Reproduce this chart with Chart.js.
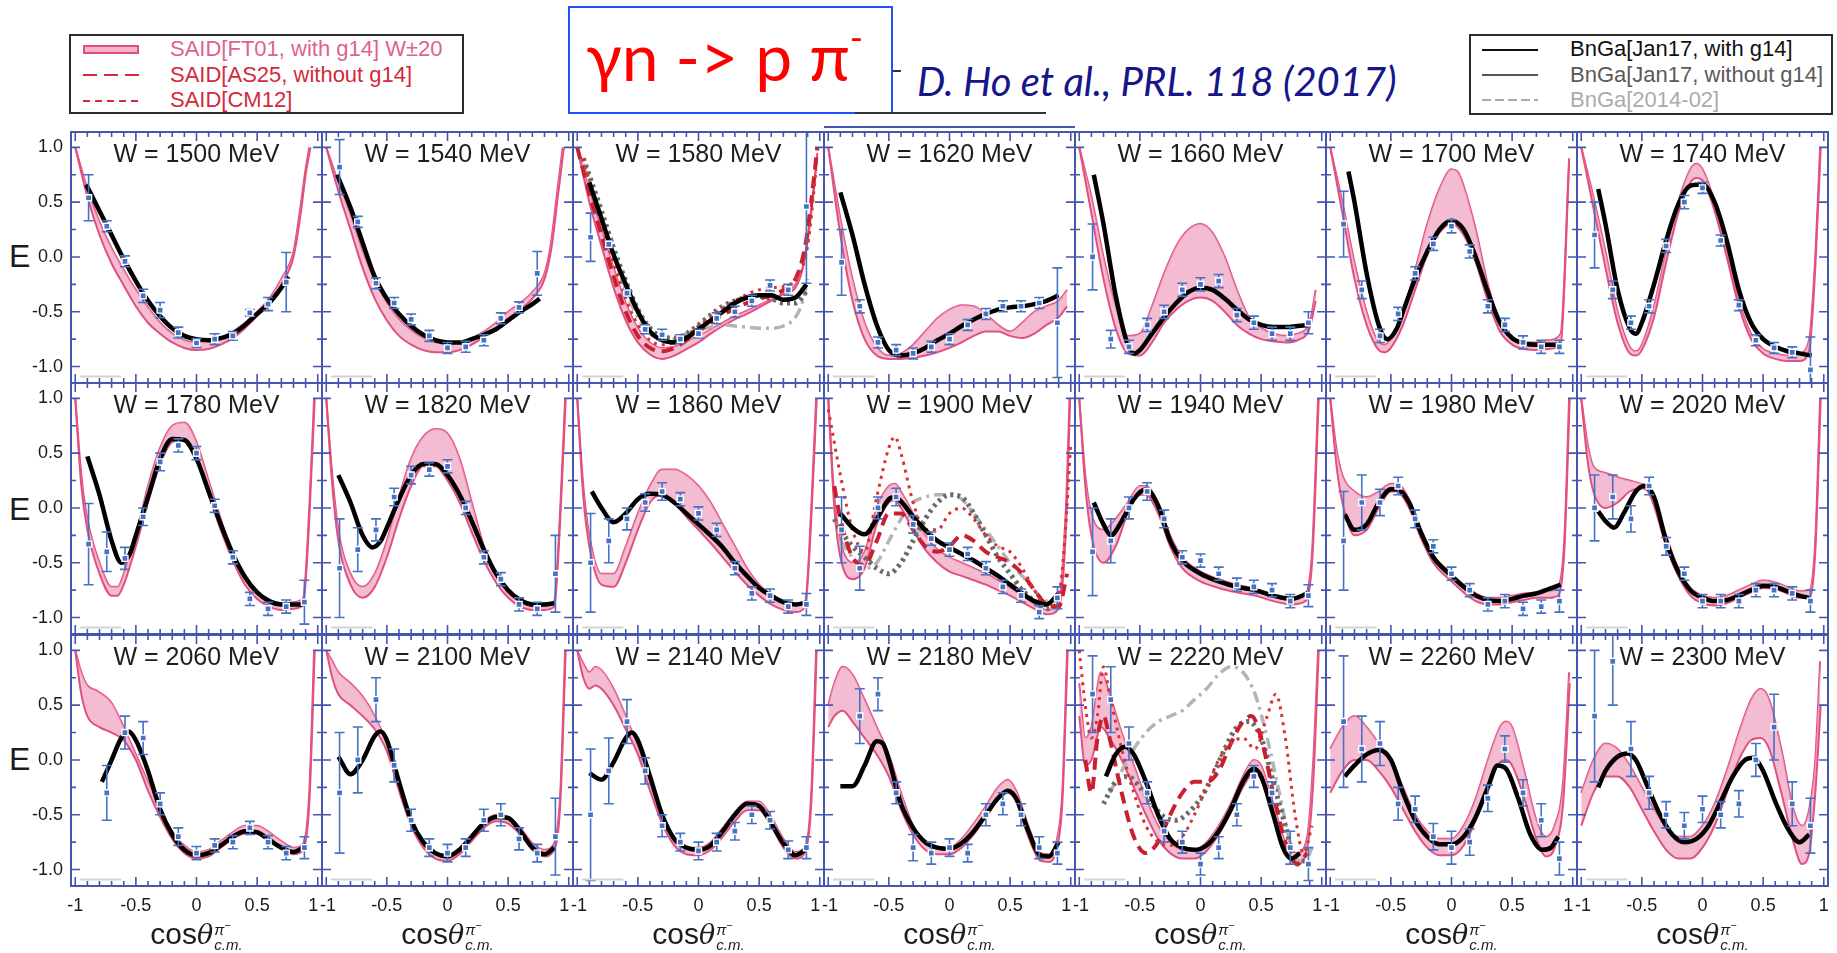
<!DOCTYPE html>
<html><head><meta charset="utf-8">
<script src="https://cdn.jsdelivr.net/npm/chart.js@4.4.1/dist/chart.umd.min.js"></script>
<style>
html,body{margin:0;padding:0;background:#fff;}
body{width:1837px;height:953px;position:relative;overflow:hidden;font-family:"Liberation Sans",Arial,sans-serif;}
canvas{position:absolute;}
.lbox{position:absolute;border:2px solid #2b2b2b;box-sizing:border-box;}
.lrow{position:absolute;font-size:22px;line-height:24px;white-space:nowrap;}
.sample{position:absolute;height:0;}
.band{position:absolute;height:5px;background:#f3b3c8;border:2px solid #e0507e;box-sizing:content-box;}
.ylab{position:absolute;left:9px;font-size:32px;line-height:36px;color:#1c1c1c;}
.xt{position:absolute;top:917px;width:200px;text-align:center;font-size:30px;line-height:34px;color:#1c1c1c;white-space:nowrap;}
.xt i{font-family:"DejaVu Serif",serif;font-size:27px;}
.xt .s{display:inline-block;vertical-align:-6px;line-height:15px;text-align:left;font-style:italic;font-size:15px;margin-left:1px;}
</style></head><body>

<div class="lbox" style="left:69px;top:34px;width:395px;height:80px;"></div>
<div class="band" style="left:83px;top:45px;width:52px;"></div>
<div class="lrow" style="left:170px;top:37px;color:#e0628f;">SAID[FT01, with g14] W±20</div>
<div class="sample" style="left:83px;top:74px;width:56px;background:repeating-linear-gradient(90deg,#d42a3c 0 14px,transparent 14px 21px);height:2px;"></div>
<div class="lrow" style="left:170px;top:63px;color:#d22a3c;">SAID[AS25, without g14]</div>
<div class="sample" style="left:83px;top:100px;width:56px;background:repeating-linear-gradient(90deg,#d42a3c 0 7px,transparent 7px 12px);height:2px;"></div>
<div class="lrow" style="left:170px;top:88px;color:#d22a3c;">SAID[CM12]</div>

<div style="position:absolute;left:568px;top:6px;width:325px;height:108px;border:2px solid #1f4fff;box-sizing:border-box;"></div>
<div style="position:absolute;left:586px;top:16px;font-family:Lato,'Open Sans',sans-serif;font-size:66px;line-height:80px;color:#ff0000;white-space:nowrap;">γn -&gt; p π<sup style="font-size:36px;vertical-align:30px;line-height:0;">-</sup></div>
<div style="position:absolute;left:855px;top:112px;width:191px;height:2px;background:#333;"></div>
<div style="position:absolute;left:893px;top:70px;width:8px;height:2px;background:#333;"></div>
<div style="position:absolute;left:917px;top:57px;font-family:Lato,'Open Sans',sans-serif;font-style:italic;font-size:40px;line-height:48px;color:#16168a;white-space:nowrap;">D. Ho et al., PRL. 118 (2017)</div>
<div style="position:absolute;left:824px;top:126px;width:251px;height:2px;background:#4556b0;"></div>

<div class="lbox" style="left:1469px;top:34px;width:364px;height:81px;"></div>
<div class="sample" style="left:1482px;top:49px;width:56px;height:2px;background:#111;"></div>
<div class="lrow" style="left:1570px;top:37px;color:#111;">BnGa[Jan17, with g14]</div>
<div class="sample" style="left:1482px;top:74px;width:56px;height:1.5px;background:#555;"></div>
<div class="lrow" style="left:1570px;top:63px;color:#5a5a5a;">BnGa[Jan17, without g14]</div>
<div class="sample" style="left:1482px;top:99px;width:56px;height:1.5px;background:repeating-linear-gradient(90deg,#aaa 0 9px,transparent 9px 13px);"></div>
<div class="lrow" style="left:1570px;top:88px;color:#ababab;">BnGa[2014-02]</div>

<div class="ylab" style="top:238px;">E</div>
<div class="ylab" style="top:491px;">E</div>
<div class="ylab" style="top:741px;">E</div>

<script>
// Photon energies of the 21 panels (MeV)
const energies = [1500,1540,1580,1620,1660,1700,1740,1780,1820,1860,1900,1940,1980,2020,2060,2100,2140,2180,2220,2260,2300];

// Angular bins of the measurement (cos theta, c.m.)
const cosBins = [-0.89,-0.74,-0.59,-0.44,-0.30,-0.15,0.00,0.15,0.30,0.44,0.59,0.74,0.89];

// Measured helicity asymmetry E per panel (null = no point)
const measE = [
  [0.54,0.28,-0.04,-0.355,-0.485,-0.69,-0.785,-0.75,-0.72,-0.51,-0.43,-0.23,null],
  [0.82,0.32,-0.24,-0.42,-0.57,-0.72,-0.83,-0.82,-0.76,-0.56,-0.46,-0.15,null],
  [0.18,0.115,-0.33,-0.66,-0.71,-0.75,-0.70,-0.56,-0.50,-0.40,-0.26,-0.30,0.46],
  [-0.05,-0.45,-0.78,-0.85,-0.88,-0.82,-0.75,-0.62,-0.52,-0.45,-0.45,-0.42,-0.60],
  [0.00,-0.75,-0.82,-0.62,-0.50,-0.30,-0.25,-0.22,-0.53,-0.60,-0.70,-0.70,-0.60],
  [0.30,-0.30,-0.72,-0.52,-0.15,0.12,0.28,0.05,-0.45,-0.62,-0.78,-0.82,-0.82],
  [0.20,-0.30,-0.60,-0.45,0.10,0.50,0.63,0.15,-0.44,-0.76,-0.83,-0.87,-1.03],
  [-0.33,-0.40,-0.46,-0.08,0.42,0.57,0.50,0.02,-0.45,-0.83,-0.92,-0.90,-0.86],
  [-0.55,-0.38,-0.20,0.10,0.30,0.35,0.38,0.00,-0.45,-0.65,-0.88,-0.92,-0.60],
  [-0.50,-0.30,-0.10,0.05,0.15,0.08,-0.05,-0.20,-0.55,-0.78,-0.80,-0.90,-0.88],
  [-0.20,-0.55,0.00,0.10,-0.15,-0.28,-0.38,-0.42,-0.55,-0.72,-0.80,-0.95,-0.82],
  [-0.40,-0.30,0.00,0.15,-0.10,-0.45,-0.48,-0.60,-0.70,-0.72,-0.75,-0.85,-0.80],
  [-0.30,0.05,0.05,0.20,-0.10,-0.35,-0.60,-0.75,-0.88,-0.85,-0.92,-0.90,-0.85],
  [0.00,0.10,-0.10,0.20,-0.35,-0.60,-0.85,-0.85,-0.85,-0.75,-0.75,-0.78,-0.85],
  [null,-0.30,0.25,0.20,-0.40,-0.70,-0.85,-0.78,-0.75,-0.62,-0.75,-0.85,-0.80],
  [-0.30,0.00,0.55,-0.05,-0.55,-0.80,-0.85,-0.80,-0.55,-0.50,-0.72,-0.85,-0.70],
  [-0.50,-0.10,0.35,-0.10,-0.60,-0.75,-0.83,-0.75,-0.65,-0.50,-0.55,-0.82,-0.80],
  [null,0.40,0.60,-0.30,-0.80,-0.85,-0.80,-0.85,-0.50,-0.40,-0.50,-0.80,-0.85],
  [0.60,0.55,0.15,-0.30,-0.65,-0.75,-0.95,-0.80,-0.50,-0.15,-0.30,-0.80,-0.95],
  [0.35,0.10,0.15,-0.40,-0.45,-0.70,-0.80,-0.75,-0.35,0.10,-0.30,-0.55,-0.90],
  [0.40,0.90,0.10,-0.30,-0.50,-0.60,-0.45,-0.50,-0.40,0.00,0.30,-0.40,-0.60]
];

// Statistical uncertainties of the measured points
const measErr = [
  [0.21,0.05,0.05,0.06,0.07,0.05,0.04,0.05,0.04,0.03,0.06,0.27,null],
  [0.25,0.05,0.05,0.05,0.05,0.05,0.05,0.05,0.05,0.05,0.05,0.20,null],
  [0.22,0.03,0.03,0.04,0.05,0.04,0.04,0.05,0.05,0.05,0.05,0.05,0.70],
  [0.30,0.06,0.05,0.05,0.05,0.05,0.05,0.05,0.05,0.05,0.05,0.05,0.50],
  [0.30,0.08,0.06,0.06,0.06,0.06,0.06,0.06,0.06,0.06,0.06,0.06,0.10],
  [0.30,0.08,0.06,0.06,0.06,0.06,0.06,0.06,0.06,0.06,0.06,0.06,0.06],
  [0.30,0.08,0.06,0.06,0.06,0.06,0.05,0.05,0.05,0.05,0.05,0.05,0.30],
  [0.37,0.18,0.10,0.08,0.08,0.06,0.06,0.06,0.06,0.06,0.06,0.06,0.20],
  [0.45,0.20,0.10,0.08,0.08,0.06,0.06,0.06,0.06,0.06,0.06,0.06,0.35],
  [0.45,0.20,0.10,0.08,0.08,0.06,0.06,0.06,0.06,0.06,0.06,0.06,0.10],
  [0.30,0.20,0.10,0.08,0.08,0.06,0.06,0.06,0.06,0.06,0.06,0.06,0.10],
  [0.40,0.20,0.10,0.08,0.08,0.06,0.06,0.06,0.06,0.06,0.06,0.06,0.10],
  [0.45,0.25,0.12,0.08,0.08,0.06,0.06,0.06,0.06,0.06,0.06,0.06,0.10],
  [0.30,0.20,0.12,0.08,0.08,0.06,0.06,0.06,0.06,0.06,0.06,0.06,0.10],
  [null,0.25,0.15,0.15,0.10,0.08,0.06,0.06,0.06,0.06,0.06,0.06,0.10],
  [0.55,0.30,0.20,0.15,0.10,0.08,0.08,0.08,0.10,0.10,0.10,0.08,0.35],
  [0.60,0.30,0.20,0.12,0.10,0.08,0.08,0.08,0.08,0.08,0.08,0.08,0.10],
  [null,0.25,0.15,0.10,0.12,0.10,0.08,0.08,0.10,0.10,0.10,0.10,0.10],
  [0.35,0.30,0.15,0.10,0.10,0.10,0.10,0.10,0.10,0.10,0.10,0.15,0.15],
  [0.60,0.30,0.20,0.15,0.12,0.12,0.15,0.12,0.12,0.12,0.12,0.15,0.15],
  [0.60,0.40,0.25,0.15,0.12,0.12,0.12,0.12,0.12,0.15,0.30,0.20,0.25]
];

// BnGa [Jan17, with g14] solution
const bngaJan17 = [
  [[-0.91,0.66],[-0.8,0.42],[-0.7,0.2],[-0.6,-0.02],[-0.5,-0.22],[-0.4,-0.4],[-0.3,-0.54],[-0.2,-0.65],[-0.1,-0.72],[0,-0.75],[0.1,-0.76],[0.2,-0.74],[0.3,-0.7],[0.4,-0.62],[0.5,-0.52],[0.6,-0.42],[0.7,-0.28],[0.76,-0.18]],
  [[-0.91,0.75],[-0.8,0.45],[-0.7,0.13],[-0.6,-0.18],[-0.5,-0.38],[-0.4,-0.52],[-0.3,-0.63],[-0.2,-0.71],[-0.1,-0.76],[0,-0.78],[0.1,-0.78],[0.2,-0.75],[0.3,-0.71],[0.4,-0.66],[0.5,-0.58],[0.6,-0.5],[0.7,-0.43],[0.76,-0.38]],
  [[-0.9,0.68],[-0.8,0.35],[-0.7,0.02],[-0.6,-0.25],[-0.5,-0.5],[-0.4,-0.68],[-0.3,-0.76],[-0.2,-0.78],[-0.1,-0.74],[0,-0.66],[0.1,-0.58],[0.2,-0.5],[0.3,-0.42],[0.4,-0.37],[0.5,-0.35],[0.6,-0.35],[0.7,-0.39],[0.8,-0.37],[0.89,-0.25]],
  [[-0.9,0.59],[-0.8,0.2],[-0.7,-0.25],[-0.6,-0.62],[-0.5,-0.85],[-0.4,-0.9],[-0.3,-0.88],[-0.2,-0.83],[-0.1,-0.76],[0,-0.7],[0.1,-0.63],[0.2,-0.57],[0.3,-0.52],[0.4,-0.48],[0.5,-0.46],[0.6,-0.45],[0.7,-0.43],[0.8,-0.4],[0.9,-0.35]],
  [[-0.88,0.75],[-0.8,0.3],[-0.7,-0.35],[-0.6,-0.8],[-0.55,-0.88],[-0.5,-0.85],[-0.4,-0.7],[-0.3,-0.55],[-0.2,-0.42],[-0.1,-0.32],[0,-0.28],[0.1,-0.3],[0.2,-0.38],[0.3,-0.48],[0.4,-0.57],[0.5,-0.62],[0.6,-0.64],[0.7,-0.64],[0.8,-0.63],[0.9,-0.62]],
  [[-0.85,0.78],[-0.8,0.5],[-0.7,-0.15],[-0.6,-0.62],[-0.53,-0.75],[-0.45,-0.65],[-0.4,-0.5],[-0.3,-0.2],[-0.2,0.05],[-0.1,0.25],[0,0.33],[0.1,0.25],[0.2,0],[0.3,-0.32],[0.4,-0.6],[0.5,-0.74],[0.6,-0.79],[0.7,-0.8],[0.8,-0.8],[0.87,-0.8]],
  [[-0.86,0.62],[-0.8,0.3],[-0.7,-0.3],[-0.6,-0.65],[-0.55,-0.7],[-0.5,-0.6],[-0.4,-0.25],[-0.3,0.15],[-0.2,0.48],[-0.1,0.65],[0,0.66],[0.1,0.5],[0.2,0.15],[0.3,-0.3],[0.4,-0.6],[0.5,-0.75],[0.6,-0.82],[0.7,-0.86],[0.8,-0.88],[0.9,-0.9]],
  [[-0.9,0.47],[-0.8,0.12],[-0.7,-0.3],[-0.62,-0.5],[-0.55,-0.42],[-0.5,-0.25],[-0.4,0.1],[-0.3,0.45],[-0.2,0.63],[-0.1,0.62],[0,0.45],[0.1,0.15],[0.2,-0.15],[0.3,-0.42],[0.4,-0.63],[0.5,-0.77],[0.6,-0.85],[0.7,-0.88],[0.8,-0.88],[0.88,-0.88]],
  [[-0.9,0.3],[-0.8,0.05],[-0.7,-0.25],[-0.62,-0.36],[-0.55,-0.3],[-0.5,-0.18],[-0.4,0.08],[-0.3,0.3],[-0.2,0.4],[-0.1,0.4],[0,0.3],[0.1,0.12],[0.2,-0.12],[0.3,-0.38],[0.4,-0.6],[0.5,-0.75],[0.6,-0.84],[0.7,-0.88],[0.8,-0.88],[0.88,-0.87]],
  [[-0.88,0.15],[-0.8,0],[-0.7,-0.13],[-0.6,-0.05],[-0.5,0.08],[-0.4,0.13],[-0.3,0.12],[-0.2,0.05],[-0.1,-0.05],[0,-0.15],[0.1,-0.25],[0.2,-0.36],[0.3,-0.5],[0.4,-0.62],[0.5,-0.73],[0.6,-0.8],[0.7,-0.86],[0.8,-0.88],[0.9,-0.86]],
  [[-0.9,-0.05],[-0.8,-0.18],[-0.7,-0.24],[-0.6,-0.1],[-0.5,0.08],[-0.45,0.1],[-0.4,0.06],[-0.3,-0.08],[-0.2,-0.2],[-0.1,-0.3],[0,-0.36],[0.1,-0.42],[0.2,-0.48],[0.3,-0.55],[0.4,-0.62],[0.5,-0.7],[0.6,-0.78],[0.7,-0.85],[0.8,-0.88],[0.9,-0.78]],
  [[-0.88,0.05],[-0.8,-0.15],[-0.74,-0.25],[-0.65,-0.12],[-0.55,0.08],[-0.45,0.17],[-0.35,0.02],[-0.25,-0.3],[-0.15,-0.48],[0,-0.6],[0.15,-0.67],[0.3,-0.72],[0.45,-0.75],[0.6,-0.8],[0.75,-0.83],[0.88,-0.78]],
  [[-0.88,-0.06],[-0.8,-0.2],[-0.7,-0.15],[-0.6,0.05],[-0.5,0.17],[-0.45,0.17],[-0.35,0.05],[-0.25,-0.23],[-0.15,-0.45],[0,-0.62],[0.1,-0.72],[0.2,-0.8],[0.3,-0.84],[0.4,-0.85],[0.5,-0.83],[0.6,-0.8],[0.7,-0.78],[0.8,-0.74],[0.9,-0.7]],
  [[-0.86,-0.03],[-0.8,-0.12],[-0.73,-0.18],[-0.65,-0.05],[-0.55,0.15],[-0.48,0.2],[-0.4,0.1],[-0.3,-0.3],[-0.2,-0.58],[-0.1,-0.75],[0,-0.82],[0.1,-0.85],[0.2,-0.84],[0.3,-0.8],[0.4,-0.75],[0.5,-0.71],[0.6,-0.72],[0.7,-0.76],[0.8,-0.8],[0.88,-0.82]],
  [[-0.78,-0.2],[-0.7,0],[-0.62,0.2],[-0.56,0.26],[-0.5,0.18],[-0.4,-0.1],[-0.3,-0.45],[-0.2,-0.68],[-0.1,-0.82],[0,-0.87],[0.1,-0.85],[0.2,-0.78],[0.3,-0.7],[0.4,-0.65],[0.5,-0.66],[0.6,-0.73],[0.7,-0.8],[0.8,-0.84],[0.88,-0.8]],
  [[-0.9,0.03],[-0.8,-0.13],[-0.7,0],[-0.6,0.22],[-0.55,0.26],[-0.5,0.18],[-0.4,-0.2],[-0.3,-0.55],[-0.2,-0.75],[-0.1,-0.85],[0,-0.88],[0.1,-0.82],[0.2,-0.7],[0.3,-0.58],[0.4,-0.52],[0.5,-0.53],[0.6,-0.65],[0.7,-0.8],[0.8,-0.86],[0.88,-0.8]],
  [[-0.9,-0.12],[-0.8,-0.18],[-0.7,-0.02],[-0.6,0.2],[-0.55,0.25],[-0.5,0.18],[-0.4,-0.15],[-0.3,-0.5],[-0.2,-0.72],[-0.1,-0.8],[0,-0.82],[0.1,-0.78],[0.2,-0.65],[0.3,-0.5],[0.4,-0.4],[0.5,-0.42],[0.6,-0.58],[0.7,-0.76],[0.8,-0.87],[0.9,-0.8]],
  [[-0.9,-0.24],[-0.8,-0.24],[-0.7,-0.05],[-0.6,0.17],[-0.55,0.15],[-0.5,0],[-0.4,-0.4],[-0.3,-0.62],[-0.2,-0.75],[-0.1,-0.8],[0,-0.81],[0.1,-0.76],[0.2,-0.65],[0.3,-0.5],[0.4,-0.35],[0.48,-0.28],[0.55,-0.35],[0.65,-0.65],[0.75,-0.87],[0.82,-0.88],[0.9,-0.75]],
  [[-0.78,-0.15],[-0.7,0.05],[-0.62,0.12],[-0.55,0.05],[-0.45,-0.2],[-0.35,-0.5],[-0.25,-0.72],[-0.15,-0.8],[-0.05,-0.82],[0.05,-0.78],[0.15,-0.65],[0.25,-0.45],[0.35,-0.2],[0.44,-0.08],[0.5,-0.15],[0.6,-0.5],[0.68,-0.8],[0.75,-0.9],[0.82,-0.85]],
  [[-0.88,-0.15],[-0.8,-0.05],[-0.7,0.05],[-0.6,0.09],[-0.5,0],[-0.4,-0.3],[-0.3,-0.55],[-0.2,-0.7],[-0.1,-0.77],[0,-0.77],[0.1,-0.7],[0.2,-0.52],[0.3,-0.25],[0.38,-0.05],[0.45,-0.08],[0.55,-0.35],[0.65,-0.68],[0.75,-0.82],[0.82,-0.8],[0.88,-0.7]],
  [[-0.86,-0.25],[-0.8,-0.1],[-0.7,0.03],[-0.62,0.06],[-0.55,0],[-0.45,-0.25],[-0.35,-0.5],[-0.25,-0.68],[-0.15,-0.75],[-0.05,-0.72],[0.05,-0.6],[0.15,-0.38],[0.25,-0.15],[0.35,0],[0.42,0.02],[0.5,-0.1],[0.6,-0.38],[0.7,-0.62],[0.8,-0.75],[0.88,-0.68]]
];

// SAID [FT01, with g14], lower and upper edge of the W +/- 20 MeV band
const saidLow = [
  [[-1,1],[-0.9,0.55],[-0.8,0.2],[-0.7,-0.06],[-0.6,-0.26],[-0.5,-0.45],[-0.4,-0.6],[-0.3,-0.7],[-0.2,-0.78],[-0.1,-0.83],[0,-0.85],[0.1,-0.84],[0.2,-0.8],[0.3,-0.74],[0.4,-0.65],[0.5,-0.54],[0.6,-0.42],[0.7,-0.25],[0.8,0],[0.86,0.4],[0.9,0.75],[0.94,1]],
  [[-1,1],[-0.9,0.6],[-0.8,0.25],[-0.7,-0.1],[-0.6,-0.38],[-0.5,-0.58],[-0.4,-0.72],[-0.3,-0.8],[-0.2,-0.85],[-0.1,-0.87],[0,-0.87],[0.1,-0.85],[0.2,-0.8],[0.3,-0.73],[0.4,-0.65],[0.5,-0.56],[0.6,-0.48],[0.7,-0.38],[0.8,-0.2],[0.86,0.1],[0.91,0.55],[0.96,1]],
  [[-1,1],[-0.9,0.5],[-0.8,0.1],[-0.7,-0.28],[-0.6,-0.58],[-0.5,-0.78],[-0.4,-0.89],[-0.3,-0.93],[-0.2,-0.9],[-0.1,-0.84],[0,-0.78],[0.1,-0.7],[0.2,-0.63],[0.3,-0.57],[0.4,-0.52],[0.5,-0.46],[0.6,-0.4],[0.7,-0.34],[0.8,-0.28],[0.86,-0.1],[0.92,0.35],[0.98,0.92]],
  [[-1,1],[-0.9,0.2],[-0.8,-0.4],[-0.7,-0.75],[-0.6,-0.9],[-0.5,-0.93],[-0.4,-0.93],[-0.3,-0.92],[-0.2,-0.9],[-0.1,-0.87],[0,-0.83],[0.1,-0.78],[0.2,-0.72],[0.3,-0.68],[0.4,-0.68],[0.5,-0.72],[0.6,-0.74],[0.7,-0.7],[0.8,-0.62],[0.9,-0.55],[0.97,-0.45]],
  [[-1,1],[-0.9,0.4],[-0.8,-0.2],[-0.7,-0.65],[-0.6,-0.88],[-0.5,-0.9],[-0.4,-0.78],[-0.3,-0.6],[-0.2,-0.48],[-0.1,-0.4],[0,-0.37],[0.1,-0.4],[0.2,-0.5],[0.3,-0.62],[0.4,-0.7],[0.5,-0.75],[0.6,-0.77],[0.7,-0.78],[0.8,-0.76],[0.9,-0.65],[0.95,-0.4]],
  [[-1,1],[-0.9,0.4],[-0.8,-0.2],[-0.7,-0.62],[-0.6,-0.85],[-0.55,-0.87],[-0.5,-0.83],[-0.4,-0.62],[-0.3,-0.3],[-0.2,0.02],[-0.1,0.22],[0,0.3],[0.1,0.2],[0.2,-0.05],[0.3,-0.4],[0.4,-0.68],[0.5,-0.8],[0.6,-0.84],[0.7,-0.85],[0.8,-0.84],[0.9,-0.8],[0.97,0.85]],
  [[-1,1],[-0.9,0.45],[-0.8,-0.1],[-0.7,-0.6],[-0.6,-0.88],[-0.55,-0.9],[-0.5,-0.85],[-0.4,-0.55],[-0.3,-0.05],[-0.2,0.4],[-0.1,0.68],[-0.05,0.72],[0,0.7],[0.1,0.42],[0.2,0],[0.3,-0.45],[0.4,-0.75],[0.5,-0.88],[0.6,-0.93],[0.7,-0.95],[0.8,-0.95],[0.88,-0.85],[0.93,-0.1],[0.975,1]],
  [[-1,1],[-0.95,0.2],[-0.9,-0.2],[-0.8,-0.6],[-0.7,-0.8],[-0.65,-0.8],[-0.6,-0.7],[-0.5,-0.35],[-0.4,0.05],[-0.3,0.4],[-0.2,0.6],[-0.1,0.62],[0,0.45],[0.1,0.12],[0.2,-0.2],[0.3,-0.48],[0.4,-0.7],[0.5,-0.83],[0.6,-0.9],[0.7,-0.93],[0.8,-0.92],[0.88,-0.88],[0.93,-0.1],[0.975,1]],
  [[-1,1],[-0.95,0.2],[-0.9,-0.3],[-0.8,-0.7],[-0.7,-0.82],[-0.6,-0.72],[-0.5,-0.45],[-0.4,-0.1],[-0.3,0.2],[-0.2,0.38],[-0.1,0.38],[0,0.25],[0.1,0.05],[0.2,-0.22],[0.3,-0.48],[0.4,-0.68],[0.5,-0.82],[0.6,-0.9],[0.7,-0.93],[0.8,-0.93],[0.88,-0.9],[0.93,-0.1],[0.975,1]],
  [[-1,1],[-0.95,0.1],[-0.9,-0.35],[-0.8,-0.7],[-0.7,-0.72],[-0.6,-0.5],[-0.5,-0.2],[-0.4,0.05],[-0.3,0.12],[-0.2,0.05],[-0.1,-0.08],[0,-0.2],[0.1,-0.32],[0.2,-0.45],[0.3,-0.58],[0.4,-0.7],[0.5,-0.8],[0.6,-0.88],[0.7,-0.93],[0.8,-0.95],[0.88,-0.9],[0.93,-0.1],[0.975,1]],
  [[-1,1],[-0.95,0],[-0.9,-0.45],[-0.8,-0.65],[-0.7,-0.55],[-0.6,-0.15],[-0.5,0.05],[-0.45,0.07],[-0.4,0],[-0.3,-0.2],[-0.2,-0.38],[-0.1,-0.5],[0,-0.58],[0.1,-0.62],[0.2,-0.66],[0.3,-0.7],[0.4,-0.75],[0.5,-0.8],[0.6,-0.86],[0.7,-0.92],[0.8,-0.97],[0.9,-0.92],[0.96,-0.2],[0.995,1]],
  [[-1,1],[-0.95,0.2],[-0.9,-0.25],[-0.8,-0.5],[-0.7,-0.35],[-0.6,-0.05],[-0.5,0.12],[-0.45,0.12],[-0.35,-0.05],[-0.25,-0.35],[-0.15,-0.55],[0,-0.67],[0.15,-0.73],[0.3,-0.77],[0.45,-0.8],[0.6,-0.85],[0.75,-0.88],[0.85,-0.86],[0.92,-0.5],[0.975,1]],
  [[-1,1],[-0.95,0.4],[-0.9,0.05],[-0.8,-0.25],[-0.7,-0.2],[-0.6,0],[-0.5,0.15],[-0.45,0.15],[-0.35,0],[-0.25,-0.28],[-0.15,-0.5],[0,-0.67],[0.1,-0.77],[0.2,-0.85],[0.3,-0.88],[0.4,-0.88],[0.5,-0.86],[0.6,-0.84],[0.7,-0.82],[0.8,-0.82],[0.88,-0.8],[0.93,-0.4],[0.975,1]],
  [[-1,1],[-0.95,0.45],[-0.9,0.15],[-0.8,0],[-0.7,0.05],[-0.6,0.15],[-0.5,0.18],[-0.45,0.15],[-0.4,0.02],[-0.3,-0.35],[-0.2,-0.62],[-0.1,-0.8],[0,-0.87],[0.1,-0.89],[0.2,-0.87],[0.3,-0.82],[0.4,-0.77],[0.5,-0.73],[0.6,-0.74],[0.7,-0.78],[0.8,-0.82],[0.88,-0.82],[0.93,-0.4],[0.975,1]],
  [[-1,1],[-0.95,0.6],[-0.9,0.4],[-0.8,0.3],[-0.7,0.25],[-0.6,0.18],[-0.5,0],[-0.4,-0.28],[-0.3,-0.52],[-0.2,-0.72],[-0.1,-0.85],[0,-0.9],[0.1,-0.88],[0.2,-0.8],[0.3,-0.72],[0.4,-0.67],[0.5,-0.67],[0.6,-0.72],[0.7,-0.8],[0.8,-0.86],[0.88,-0.82],[0.93,-0.4],[0.975,1]],
  [[-1,1],[-0.95,0.75],[-0.9,0.6],[-0.8,0.5],[-0.7,0.4],[-0.6,0.28],[-0.5,0.08],[-0.4,-0.28],[-0.3,-0.6],[-0.2,-0.8],[-0.1,-0.9],[0,-0.92],[0.1,-0.86],[0.2,-0.74],[0.3,-0.62],[0.4,-0.56],[0.5,-0.58],[0.6,-0.68],[0.7,-0.82],[0.8,-0.88],[0.88,-0.82],[0.93,-0.4],[0.975,1]],
  [[-1,1],[-0.95,0.75],[-0.9,0.65],[-0.85,0.68],[-0.8,0.65],[-0.7,0.5],[-0.6,0.28],[-0.5,0.05],[-0.4,-0.28],[-0.3,-0.58],[-0.2,-0.78],[-0.1,-0.86],[0,-0.87],[0.1,-0.82],[0.2,-0.7],[0.3,-0.56],[0.4,-0.46],[0.5,-0.46],[0.6,-0.6],[0.7,-0.8],[0.8,-0.9],[0.88,-0.84],[0.93,-0.4],[0.975,1]],
  [[-1,0.3],[-0.95,0.4],[-0.88,0.45],[-0.8,0.35],[-0.7,0.2],[-0.6,0.05],[-0.5,-0.15],[-0.4,-0.45],[-0.3,-0.68],[-0.2,-0.82],[-0.1,-0.86],[0,-0.86],[0.1,-0.8],[0.2,-0.68],[0.3,-0.52],[0.4,-0.36],[0.48,-0.3],[0.55,-0.38],[0.65,-0.7],[0.75,-0.92],[0.82,-0.93],[0.88,-0.82],[0.93,-0.4],[0.975,1]],
  [[-1,0.4],[-0.95,-0.05],[-0.9,0],[-0.82,0.3],[-0.75,0.2],[-0.65,0],[-0.55,-0.25],[-0.45,-0.5],[-0.35,-0.72],[-0.25,-0.85],[-0.15,-0.9],[-0.05,-0.9],[0.05,-0.83],[0.15,-0.68],[0.25,-0.48],[0.35,-0.25],[0.44,-0.12],[0.5,-0.18],[0.6,-0.52],[0.7,-0.85],[0.8,-0.95],[0.88,-0.8],[0.93,-0.2],[0.975,1]],
  [[-1,-0.3],[-0.9,-0.1],[-0.8,0],[-0.7,0],[-0.6,-0.1],[-0.5,-0.25],[-0.4,-0.45],[-0.3,-0.65],[-0.2,-0.8],[-0.1,-0.87],[0,-0.87],[0.1,-0.78],[0.2,-0.55],[0.3,-0.25],[0.4,-0.02],[0.45,0],[0.5,-0.05],[0.6,-0.35],[0.7,-0.72],[0.78,-0.88],[0.85,-0.8],[0.92,-0.4],[0.975,0.7]],
  [[-1,-0.6],[-0.9,-0.3],[-0.8,-0.15],[-0.7,-0.15],[-0.6,-0.25],[-0.5,-0.45],[-0.4,-0.65],[-0.3,-0.82],[-0.2,-0.9],[-0.1,-0.9],[0,-0.8],[0.1,-0.6],[0.2,-0.3],[0.3,0],[0.4,0.18],[0.48,0.2],[0.55,0.1],[0.65,-0.3],[0.75,-0.75],[0.82,-0.95],[0.88,-0.85],[0.93,-0.3],[0.975,0.5]]
];
const saidHigh = [
  [[-1,1],[-0.9,0.62],[-0.8,0.32],[-0.7,0.08],[-0.6,-0.12],[-0.5,-0.3],[-0.4,-0.46],[-0.3,-0.6],[-0.2,-0.7],[-0.1,-0.76],[0,-0.78],[0.1,-0.77],[0.2,-0.74],[0.3,-0.68],[0.4,-0.6],[0.5,-0.5],[0.6,-0.38],[0.7,-0.2],[0.8,0.05],[0.85,0.4],[0.9,0.8],[0.93,1]],
  [[-1,1],[-0.9,0.68],[-0.8,0.38],[-0.7,0.05],[-0.6,-0.22],[-0.5,-0.42],[-0.4,-0.57],[-0.3,-0.67],[-0.2,-0.74],[-0.1,-0.78],[0,-0.79],[0.1,-0.78],[0.2,-0.74],[0.3,-0.68],[0.4,-0.6],[0.5,-0.5],[0.6,-0.42],[0.7,-0.32],[0.8,-0.15],[0.85,0.1],[0.9,0.55],[0.95,1]],
  [[-1,1],[-0.9,0.6],[-0.8,0.25],[-0.7,-0.1],[-0.6,-0.42],[-0.5,-0.65],[-0.4,-0.78],[-0.3,-0.83],[-0.2,-0.82],[-0.1,-0.77],[0,-0.72],[0.1,-0.66],[0.2,-0.6],[0.3,-0.54],[0.4,-0.49],[0.5,-0.44],[0.6,-0.39],[0.7,-0.33],[0.8,-0.25],[0.87,-0.05],[0.93,0.4],[0.98,0.95]],
  [[-1,1],[-0.9,0.35],[-0.8,-0.2],[-0.7,-0.6],[-0.6,-0.82],[-0.5,-0.9],[-0.4,-0.88],[-0.3,-0.8],[-0.2,-0.68],[-0.1,-0.56],[0,-0.48],[0.1,-0.44],[0.2,-0.45],[0.3,-0.52],[0.4,-0.62],[0.5,-0.68],[0.6,-0.6],[0.7,-0.5],[0.8,-0.45],[0.9,-0.4],[0.97,-0.3]],
  [[-1,1],[-0.9,0.55],[-0.8,0],[-0.7,-0.45],[-0.6,-0.72],[-0.5,-0.7],[-0.4,-0.45],[-0.3,-0.15],[-0.2,0.1],[-0.1,0.25],[0,0.3],[0.1,0.22],[0.2,0],[0.3,-0.3],[0.4,-0.55],[0.5,-0.65],[0.6,-0.7],[0.7,-0.72],[0.8,-0.7],[0.9,-0.6],[0.95,-0.3]],
  [[-1,1],[-0.9,0.5],[-0.8,-0.05],[-0.7,-0.5],[-0.6,-0.78],[-0.55,-0.8],[-0.5,-0.75],[-0.4,-0.5],[-0.3,-0.12],[-0.2,0.3],[-0.1,0.62],[0,0.8],[0.05,0.78],[0.1,0.65],[0.2,0.25],[0.3,-0.25],[0.4,-0.6],[0.5,-0.75],[0.6,-0.78],[0.7,-0.78],[0.8,-0.76],[0.9,-0.7],[0.97,0.9]],
  [[-1,1],[-0.9,0.55],[-0.8,0.05],[-0.7,-0.5],[-0.6,-0.82],[-0.55,-0.86],[-0.5,-0.8],[-0.4,-0.45],[-0.3,0.05],[-0.2,0.5],[-0.1,0.8],[-0.05,0.85],[0,0.8],[0.1,0.5],[0.2,0.05],[0.3,-0.4],[0.4,-0.7],[0.5,-0.84],[0.6,-0.88],[0.7,-0.9],[0.8,-0.88],[0.88,-0.75],[0.93,0],[0.97,1]],
  [[-1,1],[-0.95,0.3],[-0.9,-0.1],[-0.8,-0.5],[-0.7,-0.72],[-0.65,-0.72],[-0.6,-0.6],[-0.5,-0.25],[-0.4,0.2],[-0.3,0.55],[-0.2,0.75],[-0.1,0.78],[0,0.6],[0.1,0.25],[0.2,-0.1],[0.3,-0.42],[0.4,-0.65],[0.5,-0.78],[0.6,-0.86],[0.7,-0.88],[0.8,-0.86],[0.88,-0.82],[0.93,0],[0.97,1]],
  [[-1,1],[-0.95,0.3],[-0.9,-0.2],[-0.8,-0.6],[-0.7,-0.72],[-0.6,-0.6],[-0.5,-0.3],[-0.4,0.1],[-0.3,0.45],[-0.2,0.65],[-0.1,0.72],[0,0.68],[0.1,0.45],[0.2,0.05],[0.3,-0.35],[0.4,-0.62],[0.5,-0.78],[0.6,-0.86],[0.7,-0.9],[0.8,-0.9],[0.88,-0.85],[0.93,0],[0.97,1]],
  [[-1,1],[-0.95,0.2],[-0.9,-0.25],[-0.8,-0.6],[-0.7,-0.6],[-0.6,-0.35],[-0.5,-0.05],[-0.4,0.2],[-0.3,0.35],[-0.2,0.35],[-0.1,0.3],[0,0.2],[0.1,0.05],[0.2,-0.15],[0.3,-0.35],[0.4,-0.55],[0.5,-0.7],[0.6,-0.8],[0.7,-0.87],[0.8,-0.88],[0.88,-0.85],[0.93,0],[0.97,1]],
  [[-1,1],[-0.95,0.1],[-0.9,-0.3],[-0.8,-0.5],[-0.7,-0.4],[-0.6,0],[-0.5,0.2],[-0.45,0.22],[-0.4,0.15],[-0.3,-0.05],[-0.2,-0.25],[-0.1,-0.38],[0,-0.45],[0.1,-0.5],[0.2,-0.55],[0.3,-0.6],[0.4,-0.66],[0.5,-0.73],[0.6,-0.8],[0.7,-0.88],[0.8,-0.93],[0.9,-0.85],[0.96,0],[0.99,1]],
  [[-1,1],[-0.95,0.3],[-0.9,-0.05],[-0.8,-0.2],[-0.7,-0.1],[-0.6,0.05],[-0.5,0.2],[-0.45,0.2],[-0.35,0.05],[-0.25,-0.25],[-0.15,-0.45],[0,-0.58],[0.15,-0.65],[0.3,-0.7],[0.45,-0.74],[0.6,-0.8],[0.75,-0.82],[0.85,-0.8],[0.92,-0.4],[0.97,1]],
  [[-1,1],[-0.95,0.55],[-0.9,0.3],[-0.8,0.15],[-0.7,0.1],[-0.6,0.15],[-0.5,0.22],[-0.45,0.22],[-0.35,0.08],[-0.25,-0.2],[-0.15,-0.43],[0,-0.6],[0.1,-0.7],[0.2,-0.78],[0.3,-0.82],[0.4,-0.82],[0.5,-0.8],[0.6,-0.78],[0.7,-0.77],[0.8,-0.76],[0.88,-0.72],[0.93,-0.3],[0.97,1]],
  [[-1,1],[-0.95,0.6],[-0.9,0.38],[-0.8,0.32],[-0.7,0.28],[-0.6,0.25],[-0.5,0.22],[-0.45,0.2],[-0.4,0.1],[-0.3,-0.25],[-0.2,-0.55],[-0.1,-0.73],[0,-0.8],[0.1,-0.82],[0.2,-0.8],[0.3,-0.75],[0.4,-0.7],[0.5,-0.66],[0.6,-0.68],[0.7,-0.72],[0.8,-0.76],[0.88,-0.75],[0.93,-0.3],[0.97,1]],
  [[-1,1],[-0.95,0.8],[-0.9,0.68],[-0.82,0.63],[-0.7,0.52],[-0.6,0.3],[-0.5,0.05],[-0.4,-0.2],[-0.3,-0.45],[-0.2,-0.65],[-0.1,-0.78],[0,-0.84],[0.1,-0.82],[0.2,-0.74],[0.3,-0.66],[0.4,-0.6],[0.5,-0.6],[0.6,-0.66],[0.7,-0.74],[0.8,-0.8],[0.88,-0.76],[0.93,-0.3],[0.97,1]],
  [[-1,1],[-0.95,0.9],[-0.9,0.8],[-0.8,0.7],[-0.7,0.58],[-0.6,0.4],[-0.5,0.15],[-0.4,-0.2],[-0.3,-0.55],[-0.2,-0.75],[-0.1,-0.85],[0,-0.87],[0.1,-0.8],[0.2,-0.68],[0.3,-0.56],[0.4,-0.5],[0.5,-0.52],[0.6,-0.62],[0.7,-0.76],[0.8,-0.82],[0.88,-0.76],[0.93,-0.3],[0.97,1]],
  [[-1,1],[-0.95,0.88],[-0.9,0.8],[-0.85,0.85],[-0.8,0.82],[-0.7,0.65],[-0.6,0.4],[-0.5,0.12],[-0.4,-0.2],[-0.3,-0.52],[-0.2,-0.72],[-0.1,-0.8],[0,-0.8],[0.1,-0.75],[0.2,-0.62],[0.3,-0.48],[0.4,-0.38],[0.5,-0.38],[0.6,-0.52],[0.7,-0.72],[0.8,-0.84],[0.88,-0.8],[0.93,-0.3],[0.97,1]],
  [[-1,0.5],[-0.95,0.7],[-0.88,0.85],[-0.8,0.78],[-0.7,0.55],[-0.6,0.3],[-0.5,0.05],[-0.4,-0.3],[-0.3,-0.6],[-0.2,-0.75],[-0.1,-0.8],[0,-0.8],[0.1,-0.72],[0.2,-0.58],[0.3,-0.42],[0.4,-0.25],[0.48,-0.18],[0.55,-0.28],[0.65,-0.6],[0.75,-0.85],[0.82,-0.86],[0.88,-0.75],[0.93,-0.3],[0.97,1]],
  [[-1,0.7],[-0.95,0.2],[-0.9,0.3],[-0.82,0.8],[-0.75,0.6],[-0.65,0.25],[-0.55,-0.05],[-0.45,-0.35],[-0.35,-0.6],[-0.25,-0.75],[-0.15,-0.82],[-0.05,-0.82],[0.05,-0.75],[0.15,-0.6],[0.25,-0.4],[0.35,-0.15],[0.44,0],[0.5,-0.05],[0.6,-0.4],[0.7,-0.75],[0.8,-0.85],[0.88,-0.7],[0.93,0],[0.97,1]],
  [[-1,0.1],[-0.9,0.3],[-0.8,0.4],[-0.7,0.3],[-0.6,0.15],[-0.5,0],[-0.4,-0.25],[-0.3,-0.5],[-0.2,-0.65],[-0.1,-0.72],[0,-0.72],[0.1,-0.6],[0.2,-0.35],[0.3,0],[0.4,0.3],[0.45,0.35],[0.5,0.3],[0.6,-0.1],[0.7,-0.55],[0.78,-0.7],[0.85,-0.6],[0.92,-0.2],[0.97,0.8]],
  [[-1,-0.3],[-0.9,0],[-0.8,0.15],[-0.7,0.1],[-0.6,-0.05],[-0.5,-0.25],[-0.4,-0.45],[-0.3,-0.62],[-0.2,-0.7],[-0.1,-0.7],[0,-0.6],[0.1,-0.4],[0.2,-0.1],[0.3,0.25],[0.4,0.55],[0.48,0.65],[0.55,0.55],[0.65,0.1],[0.75,-0.45],[0.82,-0.6],[0.88,-0.45],[0.93,0],[0.97,0.9]]
];

// Additional solutions, drawn only at 1580, 1900 and 2220 MeV (panel index -> curve)
const as25Curve = {
  2: [[-1,1],[-0.9,0.58],[-0.8,0.2],[-0.7,-0.18],[-0.6,-0.5],[-0.5,-0.72],[-0.4,-0.83],[-0.3,-0.86],[-0.2,-0.83],[-0.1,-0.76],[0,-0.68],[0.1,-0.6],[0.2,-0.53],[0.3,-0.47],[0.4,-0.42],[0.5,-0.38],[0.6,-0.35],[0.7,-0.3],[0.8,-0.2],[0.88,0.1],[0.95,0.7],[0.98,1]],
  10: [[-0.95,0.2],[-0.9,-0.1],[-0.8,-0.45],[-0.7,-0.52],[-0.6,-0.3],[-0.5,-0.05],[-0.4,-0.05],[-0.3,-0.2],[-0.2,-0.35],[-0.1,-0.4],[0,-0.35],[0.1,-0.25],[0.2,-0.3],[0.3,-0.4],[0.4,-0.45],[0.5,-0.5],[0.6,-0.6],[0.7,-0.75],[0.8,-0.88],[0.9,-0.9],[0.97,-0.6]],
  18: [[-0.95,0],[-0.9,-0.3],[-0.85,0.2],[-0.8,0.4],[-0.75,0.2],[-0.65,-0.3],[-0.55,-0.7],[-0.45,-0.85],[-0.35,-0.75],[-0.25,-0.5],[-0.15,-0.3],[-0.05,-0.2],[0.05,-0.2],[0.15,-0.1],[0.25,0.15],[0.35,0.35],[0.42,0.4],[0.5,0.2],[0.6,-0.3],[0.7,-0.75],[0.8,-0.95],[0.88,-0.85]]
};
const cm12Curve = {
  2: [[-0.95,0.9],[-0.8,0.3],[-0.7,-0.05],[-0.6,-0.38],[-0.5,-0.62],[-0.4,-0.76],[-0.3,-0.8],[-0.2,-0.78],[-0.1,-0.72],[0,-0.63],[0.1,-0.55],[0.2,-0.47],[0.3,-0.4],[0.4,-0.34],[0.5,-0.3],[0.6,-0.28],[0.7,-0.27],[0.8,-0.2],[0.9,0.1],[0.97,0.8]],
  10: [[-1,0.9],[-0.9,0.3],[-0.8,-0.2],[-0.7,-0.4],[-0.6,0.1],[-0.5,0.55],[-0.45,0.65],[-0.4,0.5],[-0.3,0.05],[-0.2,-0.2],[-0.1,-0.2],[0,-0.05],[0.1,0],[0.2,-0.1],[0.3,-0.25],[0.4,-0.35],[0.5,-0.4],[0.6,-0.55],[0.7,-0.75],[0.8,-0.9],[0.9,-0.8],[0.95,-0.3],[1,0.6]],
  18: [[-1,1],[-0.95,0.5],[-0.9,0.2],[-0.85,0.4],[-0.8,0.85],[-0.75,0.6],[-0.65,0.1],[-0.55,-0.3],[-0.45,-0.6],[-0.35,-0.75],[-0.25,-0.78],[-0.15,-0.7],[-0.05,-0.5],[0.05,-0.25],[0.15,0],[0.25,0.15],[0.35,0.2],[0.45,0.1],[0.55,0.4],[0.62,0.6],[0.7,0.2],[0.78,-0.5],[0.85,-0.85],[0.92,-0.6]]
};
const bngaNoG14Curve = {
  2: [[-0.95,0.9],[-0.8,0.42],[-0.7,0.08],[-0.6,-0.22],[-0.5,-0.48],[-0.4,-0.65],[-0.3,-0.73],[-0.2,-0.74],[-0.1,-0.7],[0,-0.62],[0.1,-0.53],[0.2,-0.45],[0.3,-0.4],[0.4,-0.37],[0.5,-0.36],[0.6,-0.38],[0.7,-0.42],[0.8,-0.42],[0.9,-0.3]],
  10: [[-0.95,-0.1],[-0.9,-0.2],[-0.8,-0.35],[-0.7,-0.45],[-0.6,-0.55],[-0.5,-0.6],[-0.4,-0.5],[-0.3,-0.3],[-0.2,-0.1],[-0.1,0.05],[0,0.12],[0.1,0.1],[0.2,-0.05],[0.3,-0.25],[0.4,-0.45],[0.5,-0.6],[0.6,-0.75],[0.7,-0.85],[0.8,-0.92],[0.9,-0.88]],
  18: [[-0.8,-0.4],[-0.7,-0.2],[-0.6,-0.15],[-0.5,-0.25],[-0.4,-0.4],[-0.3,-0.52],[-0.2,-0.55],[-0.1,-0.48],[0,-0.35],[0.1,-0.15],[0.2,0.1],[0.3,0.3],[0.4,0.35],[0.5,0.2],[0.6,-0.2],[0.7,-0.6],[0.8,-0.95],[0.88,-0.9]]
};
const bnga1402Curve = {
  2: [[-0.95,0.85],[-0.8,0.35],[-0.7,0.02],[-0.6,-0.3],[-0.5,-0.55],[-0.4,-0.7],[-0.3,-0.76],[-0.2,-0.75],[-0.1,-0.7],[0,-0.66],[0.1,-0.64],[0.2,-0.62],[0.3,-0.63],[0.4,-0.64],[0.5,-0.65],[0.6,-0.65],[0.7,-0.63],[0.8,-0.55],[0.86,-0.4],[0.9,-0.2]],
  10: [[-0.9,-0.3],[-0.8,-0.45],[-0.7,-0.55],[-0.6,-0.5],[-0.5,-0.3],[-0.4,-0.1],[-0.3,0.05],[-0.2,0.1],[-0.1,0.12],[0,0.12],[0.1,0.08],[0.2,-0.05],[0.3,-0.2],[0.4,-0.35],[0.5,-0.5],[0.6,-0.62],[0.7,-0.75],[0.8,-0.85],[0.9,-0.85]],
  18: [[-0.75,-0.3],[-0.65,-0.1],[-0.55,0.1],[-0.45,0.25],[-0.35,0.35],[-0.25,0.4],[-0.15,0.45],[-0.05,0.55],[0.05,0.65],[0.15,0.78],[0.25,0.85],[0.35,0.8],[0.45,0.6],[0.55,0.2],[0.65,-0.3],[0.75,-0.8],[0.85,-0.95],[0.92,-0.8]]
};

// Axis ticks
const xTickValues = [-1,-0.5,0,0.5,1];
const yTickValues = [-1,-0.5,0,0.5,1];

// ---- drawing ----
const FRAME = '#4556b0';
const PINK_LINE = '#e2507f';
const PINK_FILL = 'rgba(240,165,195,0.75)';
const DATA_BLUE = '#4472c4';
const PANEL_W = 251, PANEL_X0 = 71, ROW_TOPS = [132, 383, 635];
const MARGIN = 24;

const toXY = arr => arr.map(p => ({x: p[0], y: p[1]}));

const panelPlugin = {
  id: 'panelDecor',
  beforeDatasetDraw(chart, args) {
    const ds = chart.data.datasets[args.index];
    if (!ds.errs) return;
    const {ctx, chartArea: a, scales: {x, y}} = chart;
    ctx.save();
    ctx.beginPath(); ctx.rect(a.left, a.top, a.right - a.left, a.bottom - a.top); ctx.clip();
    ctx.strokeStyle = DATA_BLUE; ctx.lineWidth = 1.6;
    ds.data.forEach((p, k) => {
      const e = ds.errs[k];
      const px = x.getPixelForValue(p.x);
      const y1 = y.getPixelForValue(p.y + e), y2 = y.getPixelForValue(p.y - e);
      ctx.beginPath();
      ctx.moveTo(px, y1); ctx.lineTo(px, y2);
      ctx.moveTo(px - 5, y1); ctx.lineTo(px + 5, y1);
      ctx.moveTo(px - 5, y2); ctx.lineTo(px + 5, y2);
      ctx.stroke();
    });
    ctx.restore();
  },
  afterDraw(chart) {
    const {ctx, chartArea: a, scales: {x, y}} = chart;
    ctx.save();
    // faint caption stroke in the lower left corner
    ctx.strokeStyle = '#d4d4d4'; ctx.lineWidth = 2;
    ctx.beginPath();
    ctx.moveTo(x.getPixelForValue(-0.96), y.getPixelForValue(-1.09));
    ctx.lineTo(x.getPixelForValue(-0.62), y.getPixelForValue(-1.09));
    ctx.stroke();
    ctx.strokeStyle = FRAME; ctx.lineWidth = 2;
    ctx.strokeRect(a.left, a.top, a.right - a.left, a.bottom - a.top);
    ctx.lineWidth = 1.6;
    ctx.beginPath();
    for (let k = -10; k <= 10; k++) {
      const px = x.getPixelForValue(k / 10);
      const len = (k % 5 === 0) ? 9 : 5;
      ctx.moveTo(px, a.bottom); ctx.lineTo(px, a.bottom - len);
      ctx.moveTo(px, a.top); ctx.lineTo(px, a.top + len);
    }
    for (let k = -4; k <= 4; k++) {
      const py = y.getPixelForValue(k / 4);
      const len = (k % 2 === 0) ? 9 : 5;
      ctx.moveTo(a.left, py); ctx.lineTo(a.left + len, py);
      ctx.moveTo(a.right, py); ctx.lineTo(a.right - len, py);
    }
    ctx.stroke();
    ctx.fillStyle = '#1e1e1e';
    ctx.font = '25px "Liberation Sans", Arial, sans-serif';
    ctx.textAlign = 'center'; ctx.textBaseline = 'middle';
    ctx.fillText(chart.options.plugins.panelDecor.label, (a.left + a.right) / 2, a.top + 23);
    ctx.restore();
  }
};

function line(points, color, width, dash, order) {
  return {data: toXY(points), borderColor: color, borderWidth: width, borderDash: dash || [],
    pointRadius: 0, fill: false, cubicInterpolationMode: 'monotone', order: order};
}

energies.forEach((w, i) => {
  const r = Math.floor(i / 7), c = i % 7;
  const left = PANEL_X0 + c * PANEL_W, top = ROW_TOPS[r];
  const showX = r === 2, showY = c === 0;
  const padL = showY ? left : MARGIN;
  const padB = showX ? 953 - (top + PANEL_W) : MARGIN;
  const cw = padL + PANEL_W + MARGIN, ch = MARGIN + PANEL_W + padB;
  const cv = document.createElement('canvas');
  cv.width = cw; cv.height = ch;
  cv.style.width = cw + 'px'; cv.style.height = ch + 'px';
  cv.style.left = (left - padL) + 'px'; cv.style.top = (top - MARGIN) + 'px';
  document.body.appendChild(cv);

  const pts = [], errs = [];
  cosBins.forEach((cb, k) => {
    if (measE[i][k] !== null) { pts.push({x: cb, y: measE[i][k]}); errs.push(measErr[i][k]); }
  });

  const datasets = [
    {data: pts, errs: errs, showLine: false, pointStyle: 'rect', pointRadius: 4.3,
     pointBackgroundColor: DATA_BLUE, pointBorderColor: '#ffffff', pointBorderWidth: 1.4, order: 0},
    line(bngaJan17[i], '#000000', 4.5, null, 1),
    Object.assign(line(saidLow[i], PINK_LINE, 2, null, 8), {fill: '+1', backgroundColor: PINK_FILL}),
    line(saidHigh[i], PINK_LINE, 2, null, 9)
  ];
  if (bnga1402Curve[i]) datasets.push(line(bnga1402Curve[i], '#b4b4b4', 3.5, [11, 5, 3, 5], 5));
  if (bngaNoG14Curve[i]) datasets.push(line(bngaNoG14Curve[i], '#6a6a6a', 5, [3, 4], 4));
  if (as25Curve[i]) datasets.push(line(as25Curve[i], '#c8202e', 4, [12, 7], 3));
  if (cm12Curve[i]) datasets.push(line(cm12Curve[i], '#dd3030', 3, [3, 5], 2));

  // neighbouring panels share the "1-1" corner: nudge those two labels apart
  const xLabel = v => {
    if (v === 0) return '0';
    if (v === 1 && c < 6) return '1\u2002';
    if (v === -1 && c > 0) return '\u2009-1';
    return String(v);
  };

  const chart = new Chart(cv, {
    type: 'line',
    data: {datasets},
    options: {
      responsive: false, animation: false, events: [],
      layout: {padding: {left: showY ? 0 : MARGIN, top: MARGIN, right: MARGIN, bottom: showX ? 0 : MARGIN}},
      plugins: {legend: {display: false}, tooltip: {enabled: false}, panelDecor: {label: 'W = ' + w + ' MeV'}},
      scales: {
        x: {type: 'linear', min: -1.035, max: 1.035, display: showX,
            grid: {display: false, drawTicks: false}, border: {display: false},
            ticks: {padding: 9, color: '#1a1a1a', font: {size: 18, family: '"Liberation Sans", Arial'},
                    maxRotation: 0, autoSkip: false, callback: xLabel},
            afterBuildTicks: s => { s.ticks = xTickValues.map(v => ({value: v})); },
            afterFit: s => { if (showX) s.height = padB; }},
        y: {type: 'linear', min: -1.15, max: 1.14, display: showY,
            grid: {display: false, drawTicks: false}, border: {display: false},
            ticks: {padding: 8, color: '#1a1a1a', font: {size: 18, family: '"Liberation Sans", Arial'},
                    callback: v => v.toFixed(1)},
            afterBuildTicks: s => { s.ticks = yTickValues.map(v => ({value: v})); },
            afterFit: s => { if (showY) s.width = padL; }}
      }
    },
    plugins: [panelPlugin]
  });

  // keep every plot area exactly one panel wide and high, then pin it to the grid
  let a = chart.chartArea;
  const dw = PANEL_W - (a.right - a.left), dh = PANEL_W - (a.bottom - a.top);
  if (Math.abs(dw) > 0.5 || Math.abs(dh) > 0.5) {
    chart.resize(Math.round(cw + dw), Math.round(ch + dh));
    a = chart.chartArea;
  }
  cv.style.left = Math.round(left - a.left) + 'px';
  cv.style.top = Math.round(top - a.top) + 'px';

  if (showX) {
    const t = document.createElement('div');
    t.className = 'xt';
    t.style.left = (left + PANEL_W / 2 - 100) + 'px';
    t.innerHTML = 'cos<i>θ</i><span class="s">π<sup style="font-size:11px;">−</sup><br>c.m.</span>';
    document.body.appendChild(t);
  }
});
</script>
</body></html>
